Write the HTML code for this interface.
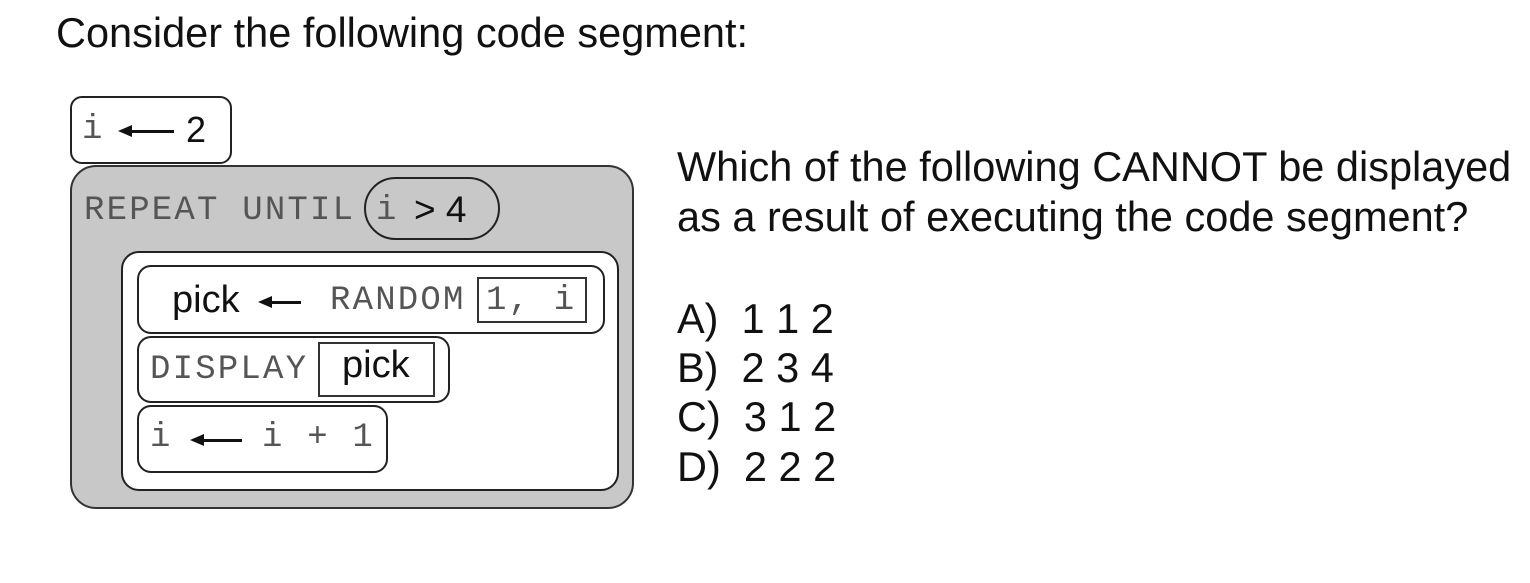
<!DOCTYPE html>
<html><head><style>
body{margin:0;width:1530px;height:583px;background:#fff;position:relative;overflow:hidden;font-family:"Liberation Sans",sans-serif;color:#111}
.a{position:absolute;box-sizing:border-box}
.b{border:2px solid #222;background:#fff}
.m{font-family:"Liberation Mono",monospace;color:#555;white-space:pre;position:absolute;font-size:34px;letter-spacing:2.2px;line-height:1}
.s{position:absolute;white-space:pre;color:#111;line-height:1}
.q{font-size:41.5px}
.arr{position:absolute;height:3px;background:#111}
.arr:before{content:"";position:absolute;left:-12px;top:-5px;border-right:14px solid #111;border-top:6px solid transparent;border-bottom:6px solid transparent}
</style></head><body>
<div class="s q" style="left:56px;top:12px">Consider the following code segment:</div>

<div class="a b" style="left:70px;top:96px;width:162px;height:68px;border-radius:12px"></div>
<div class="m" style="left:82px;top:113px">i</div>
<div class="arr" style="left:130px;top:130px;width:44px"></div>
<div class="s" style="left:186px;top:112px;font-size:36px">2</div>

<div class="a" style="left:70px;top:165px;width:564px;height:344px;border:2px solid #333;background:#c8c8c8;border-radius:26px"></div>
<div class="m" style="left:84px;top:194px">REPEAT UNTIL</div>
<div class="a b" style="left:364px;top:177px;width:136px;height:63px;border-radius:32px;background:#c8c8c8"></div>
<div class="m" style="left:376px;top:194px">i</div>
<div class="s" style="left:414px;top:191px;font-size:37px">&gt; 4</div>

<div class="a b" style="left:121px;top:251px;width:498px;height:240px;border-radius:18px"></div>
<div class="a b" style="left:137px;top:265px;width:468px;height:69px;border-radius:14px"></div>
<div class="s" style="left:172px;top:281px;font-size:38px">pick</div>
<div class="arr" style="left:270px;top:301px;width:31px"></div>
<div class="m" style="left:330px;top:284px">RANDOM</div>
<div class="a" style="left:477px;top:277px;width:110px;height:46px;border:2px solid #333"></div>
<div class="m" style="left:486px;top:284px">1, i</div>

<div class="a b" style="left:137px;top:336px;width:313px;height:67px;border-radius:14px"></div>
<div class="m" style="left:150px;top:353px">DISPLAY</div>
<div class="a" style="left:318px;top:342px;width:117px;height:55px;border:2px solid #333"></div>
<div class="s" style="left:342px;top:346px;font-size:38px">pick</div>

<div class="a b" style="left:137px;top:405px;width:251px;height:68px;border-radius:14px"></div>
<div class="m" style="left:150px;top:421px">i</div>
<div class="arr" style="left:202px;top:439px;width:40px"></div>
<div class="m" style="left:262px;top:421px">i + 1</div>

<div class="s q" style="left:677px;top:146px">Which of the following CANNOT be displayed</div>
<div class="s q" style="left:677px;top:196px">as a result of executing the code segment?</div>
<div class="s q" style="left:677px;top:298px">A)  1 1 2</div>
<div class="s q" style="left:677px;top:347px">B)  2 3 4</div>
<div class="s q" style="left:677px;top:396px">C)  3 1 2</div>
<div class="s q" style="left:677px;top:446px">D)  2 2 2</div>
</body></html>
